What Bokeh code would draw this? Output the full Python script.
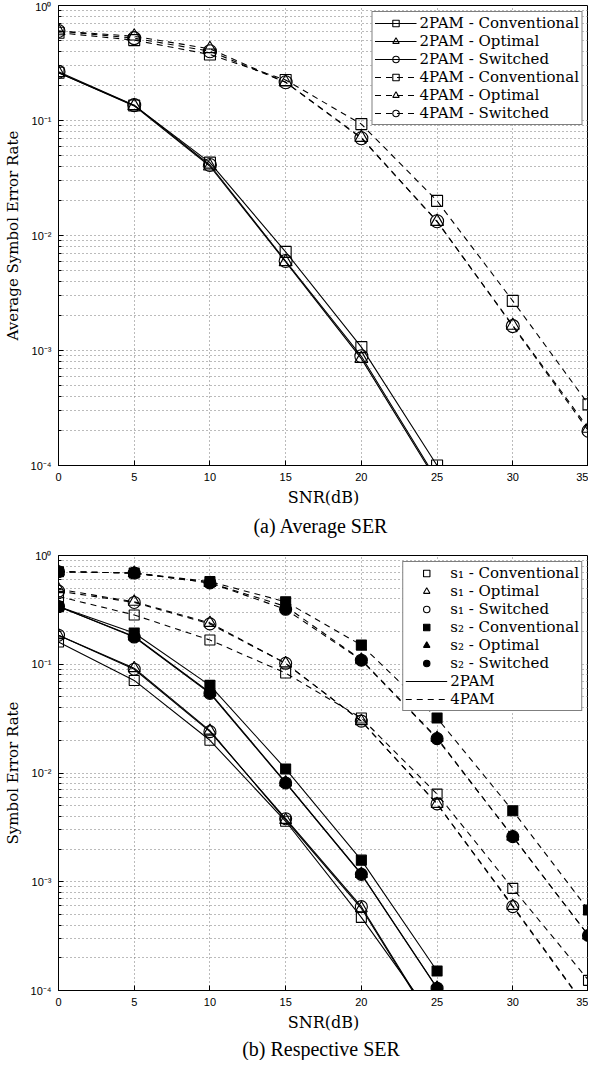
from bokeh.plotting import figure
from bokeh.models import Range1d, FixedTicker, Legend, LegendItem
from bokeh.layouts import column
from bokeh.embed import file_html
from bokeh.resources import INLINE

# ---------------- data ----------------
snr = [0, 5, 10, 15, 20, 25, 30, 35]
snr_2pam = [0, 5, 10, 15, 20, 25]

x_ticks = [0, 5, 10, 15, 20, 25, 30, 35]
y_ticks = [0.0001, 0.001, 0.01, 0.1, 1.0]
y_tick_labels = ["10⁻⁴", "10⁻³", "10⁻²", "10⁻¹", "10⁰"]

# (a) Average SER
a_2pam_conv = [0.26, 0.135, 0.043, 0.0072, 0.00107, 0.0001]
a_2pam_opt = [0.26, 0.134, 0.040, 0.0059, 0.00085, 7.2e-5]
a_2pam_sw = [0.265, 0.136, 0.041, 0.0060, 0.00089, 7.5e-5]
a_4pam_conv = [0.58, 0.50, 0.375, 0.225, 0.093, 0.020, 0.0027, 0.00034]
a_4pam_opt = [0.60, 0.54, 0.42, 0.215, 0.071, 0.0132, 0.00165, 0.00021]
a_4pam_sw = [0.60, 0.52, 0.40, 0.215, 0.070, 0.0133, 0.00163, 0.00020]

# (b) Respective SER
b_s1_2pam_conv = [0.16, 0.071, 0.020, 0.0036, 0.00047, 5.0e-5]
b_s1_2pam_opt = [0.185, 0.092, 0.0245, 0.0037, 0.00057, 4.3e-5]
b_s1_2pam_sw = [0.185, 0.090, 0.024, 0.0038, 0.00059, 4.4e-5]
b_s2_2pam_conv = [0.34, 0.194, 0.064, 0.0109, 0.00158, 0.000151]
b_s2_2pam_opt = [0.34, 0.180, 0.055, 0.0082, 0.00118, 0.000106]
b_s2_2pam_sw = [0.34, 0.178, 0.054, 0.0081, 0.00117, 0.000105]
b_s1_4pam_conv = [0.42, 0.284, 0.167, 0.083, 0.032, 0.0064, 0.00087, 0.000124]
b_s1_4pam_opt = [0.49, 0.375, 0.24, 0.102, 0.030, 0.0052, 0.00060, 6.6e-5]
b_s1_4pam_sw = [0.47, 0.37, 0.235, 0.102, 0.030, 0.0052, 0.00059, 6.5e-5]
b_s2_4pam_conv = [0.71, 0.69, 0.575, 0.375, 0.15, 0.032, 0.0045, 0.00055]
b_s2_4pam_opt = [0.71, 0.69, 0.56, 0.34, 0.11, 0.021, 0.0026, 0.00032]
b_s2_4pam_sw = [0.71, 0.69, 0.56, 0.32, 0.109, 0.0207, 0.0026, 0.00032]

SERIF = "DejaVu Serif"
DASH = "6 5"


def minor_list():
    out = []
    for d in [0.0001, 0.001, 0.01, 0.1]:
        for k in range(2, 10):
            out.append(d * k)
    return out


def make_fig(ylabel, caption, height, top, left, title_standoff):
    p = figure(width=588, height=height, x_range=Range1d(0, 35),
               y_range=Range1d(0.0001, 1.0), y_axis_type="log",
               output_backend="svg", toolbar_location=None,
               min_border_top=top, min_border_bottom=0,
               min_border_left=left, min_border_right=0,
               title=caption, title_location="below")
    xt = FixedTicker(ticks=x_ticks, minor_ticks=[])
    yt = FixedTicker(ticks=y_ticks, minor_ticks=minor_list())
    p.xaxis.ticker = xt
    p.yaxis.ticker = yt
    p.xgrid.ticker = xt
    p.ygrid.ticker = yt
    p.yaxis.major_label_overrides = {v: s for v, s in zip(y_ticks, y_tick_labels)}
    for ax in [p.xaxis[0], p.yaxis[0]]:
        ax.major_tick_in = 5
        ax.major_tick_out = 0
        ax.minor_tick_in = 3
        ax.minor_tick_out = 0
        ax.axis_line_color = "black"
        ax.major_tick_line_color = "black"
        ax.minor_tick_line_color = "black"
        ax.major_label_text_font = "Liberation Sans"
        ax.major_label_text_font_size = "11px"
        ax.major_label_text_color = "black"
        ax.axis_label_text_font = SERIF
        ax.axis_label_text_font_style = "normal"
        ax.axis_label_text_color = "black"
    p.xaxis.axis_label = "SNR(dB)"
    p.xaxis.axis_label_text_font_size = "16px"
    p.xaxis.major_label_standoff = 7
    p.xaxis.axis_label_standoff = 4
    p.yaxis.axis_label = ylabel
    p.yaxis.axis_label_text_font_size = "15px"
    p.yaxis.major_label_standoff = 7
    p.yaxis.axis_label_standoff = 6
    for g in [p.xgrid[0], p.ygrid[0]]:
        g.grid_line_color = "#777777"
        g.grid_line_dash = "1 3"
        g.grid_line_width = 1
    p.ygrid.minor_grid_line_color = "#777777"
    p.ygrid.minor_grid_line_dash = "1 3"
    p.outline_line_color = "black"
    p.outline_line_width = 1
    p.title.align = "center"
    p.title.text_font = "Liberation Serif"
    p.title.text_font_size = "20px"
    p.title.text_font_style = "normal"
    p.title.text_color = "black"
    p.title.standoff = title_standoff
    return p


# ---------------- (a) ----------------
pa = make_fig("Average Symbol Error Rate", "(a)  Average SER", 539, 5, 50, 6)
items_a = []
series_a = [
    ("2PAM - Conventional", snr_2pam, a_2pam_conv, "square", 11, "solid"),
    ("2PAM - Optimal", snr_2pam, a_2pam_opt, "triangle", 13, "solid"),
    ("2PAM - Switched", snr_2pam, a_2pam_sw, "circle", 13, "solid"),
    ("4PAM - Conventional", snr, a_4pam_conv, "square", 11, DASH),
    ("4PAM - Optimal", snr, a_4pam_opt, "triangle", 13, DASH),
    ("4PAM - Switched", snr, a_4pam_sw, "circle", 13, DASH),
]
for lab, xs, ys, mk, sz, dash in series_a:
    ln = pa.line(xs, ys, line_color="black", line_width=1.1, line_dash=dash)
    sc = pa.scatter(xs, ys, marker=mk, size=sz, fill_color=None,
                    line_color="black", line_width=1.1)
    items_a.append(LegendItem(label=lab, renderers=[ln, sc]))
leg_a = Legend(items=items_a, location="top_right")
pa.add_layout(leg_a)

# ---------------- (b) ----------------
pb = make_fig("Symbol Error Rate", "(b)  Respective SER", 521, 16, 46, 2)
series_b = [
    (snr_2pam, b_s1_2pam_conv, "square", 10, None, "solid"),
    (snr_2pam, b_s1_2pam_opt, "triangle", 12, None, "solid"),
    (snr_2pam, b_s1_2pam_sw, "circle", 12, None, "solid"),
    (snr_2pam, b_s2_2pam_conv, "square", 10, "black", "solid"),
    (snr_2pam, b_s2_2pam_opt, "triangle", 12, "black", "solid"),
    (snr_2pam, b_s2_2pam_sw, "circle", 12, "black", "solid"),
    (snr, b_s1_4pam_conv, "square", 10, None, DASH),
    (snr, b_s1_4pam_opt, "triangle", 12, None, DASH),
    (snr, b_s1_4pam_sw, "circle", 12, None, DASH),
    (snr, b_s2_4pam_conv, "square", 10, "black", DASH),
    (snr, b_s2_4pam_opt, "triangle", 12, "black", DASH),
    (snr, b_s2_4pam_sw, "circle", 12, "black", DASH),
]
lines_b = []
scat_b = []
for xs, ys, mk, sz, fc, dash in series_b:
    ln = pb.line(xs, ys, line_color="black", line_width=1.1, line_dash=dash)
    sc = pb.scatter(xs, ys, marker=mk, size=sz, fill_color=fc,
                    line_color="black", line_width=1.1)
    lines_b.append(ln)
    scat_b.append(sc)

legend_labels_b = ["s₁ - Conventional", "s₁ - Optimal", "s₁ - Switched",
                   "s₂ - Conventional", "s₂ - Optimal", "s₂ - Switched"]
items_b = [LegendItem(label=legend_labels_b[i], renderers=[scat_b[i]]) for i in range(6)]
items_b.append(LegendItem(label="2PAM", renderers=[lines_b[0]]))
items_b.append(LegendItem(label="4PAM", renderers=[lines_b[6]]))
leg_b = Legend(items=items_b, location="top_right")
pb.add_layout(leg_b)

for lg in [leg_a, leg_b]:
    lg.border_line_color = "black"
    lg.border_line_width = 1
    lg.background_fill_color = "white"
    lg.background_fill_alpha = 1
    lg.label_text_font = SERIF
    lg.label_text_font_size = "15px"
    lg.label_text_line_height = 1.0
    lg.label_text_color = "black"
    lg.glyph_width = 42
    lg.glyph_height = 16
    lg.label_height = 16
    lg.label_standoff = 3
    lg.spacing = 0
    lg.padding = 2
    lg.margin = 6

layout = column(pa, pb)
open("out.html", "w").write(file_html(layout, INLINE))
